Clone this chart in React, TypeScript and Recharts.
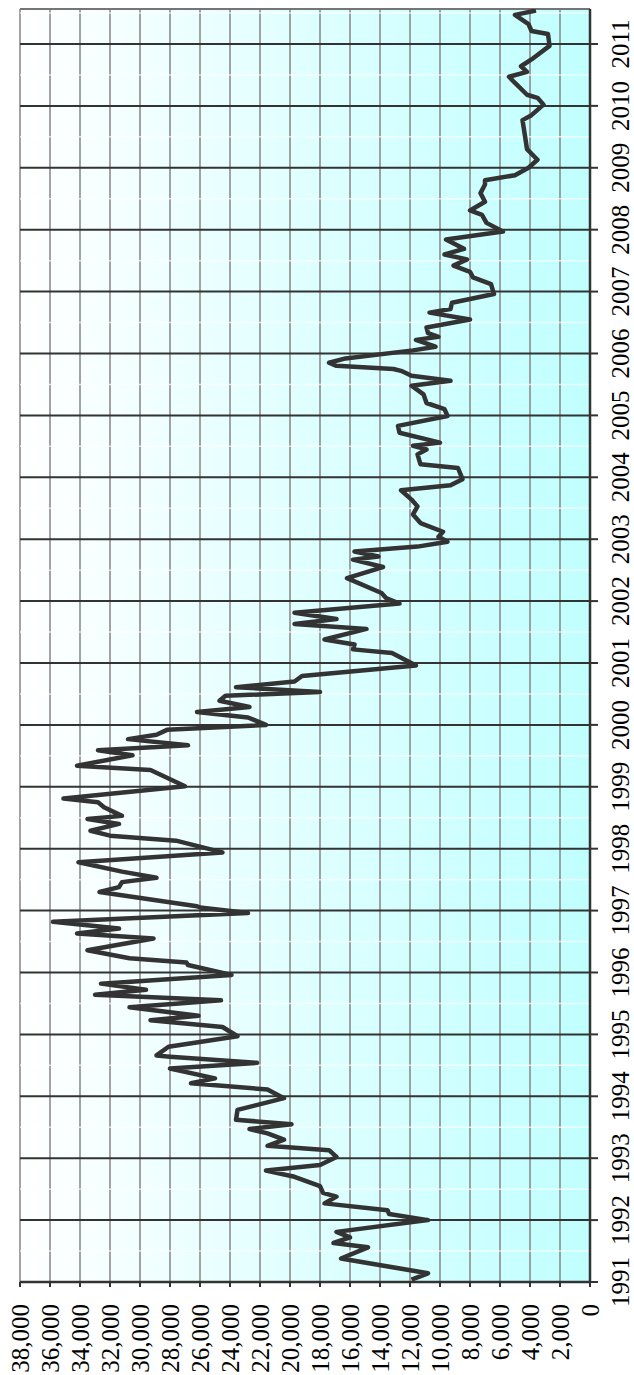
import {
  LineChart, Line, XAxis, YAxis, CartesianGrid, ReferenceLine,
} from 'recharts'

const dates = [
  1991.04, 1991.14, 1991.38, 1991.56, 1991.63, 1991.72, 1991.81,
  1992.0, 1992.1, 1992.16, 1992.27, 1992.38, 1992.44, 1992.55, 1992.7, 1992.8, 1992.89,
  1993.02, 1993.13, 1993.2, 1993.3, 1993.4, 1993.47, 1993.55, 1993.62, 1993.78, 1993.97,
  1994.11, 1994.21, 1994.29, 1994.45, 1994.54, 1994.64, 1994.66, 1994.8, 1994.97,
  1995.12, 1995.23, 1995.3, 1995.44, 1995.55, 1995.64, 1995.72, 1995.82, 1995.96,
  1996.12, 1996.16, 1996.23, 1996.36, 1996.55, 1996.63, 1996.71, 1996.82, 1996.96,
  1997.05, 1997.07, 1997.3, 1997.38, 1997.46, 1997.53, 1997.63, 1997.78, 1997.94,
  1998.13, 1998.21, 1998.29, 1998.4, 1998.48, 1998.53, 1998.67, 1998.75, 1998.81,
  1999.01, 1999.27, 1999.34, 1999.51, 1999.59, 1999.67, 1999.77, 1999.84, 1999.92,
  2000.0, 2000.12, 2000.21, 2000.29, 2000.39, 2000.47, 2000.53, 2000.61, 2000.7, 2000.79, 2000.96,
  2001.16, 2001.22, 2001.3, 2001.38, 2001.55, 2001.63, 2001.71, 2001.81, 2001.96,
  2002.05, 2002.13, 2002.37, 2002.55, 2002.67, 2002.72, 2002.8, 2002.88, 2002.96,
  2003.04, 2003.12, 2003.26, 2003.4, 2003.53, 2003.64, 2003.79, 2003.87, 2003.97,
  2004.15, 2004.21, 2004.37, 2004.45, 2004.51, 2004.56, 2004.72, 2004.83, 2004.99,
  2005.1, 2005.2, 2005.34, 2005.48, 2005.56, 2005.64, 2005.72, 2005.75, 2005.8, 2005.85, 2005.92,
  2006.05, 2006.11, 2006.22, 2006.27, 2006.33, 2006.42, 2006.55, 2006.66, 2006.72, 2006.82, 2006.96,
  2007.12, 2007.23, 2007.32, 2007.42, 2007.52, 2007.6, 2007.69, 2007.84, 2007.97,
  2008.11, 2008.24, 2008.31, 2008.45, 2008.59, 2008.73, 2008.8, 2008.88,
  2009.0, 2009.13, 2009.3, 2009.46, 2009.77, 2009.85,
  2010.02, 2010.13, 2010.18, 2010.37, 2010.47, 2010.55, 2010.64, 2010.75, 2010.97,
  2011.16, 2011.21, 2011.32, 2011.47, 2011.54,
]

const values = [
  11900, 10800, 16600, 14800, 17100, 16000, 16900,
  10800, 13400, 13500, 17700, 16900, 17800, 18000, 19700, 21600, 18000,
  16900, 17400, 21500, 20400, 21500, 22700, 19900, 23600, 23500, 20400,
  21500, 26600, 25000, 28000, 22200, 28000, 28900, 28100, 23500,
  24500, 29300, 26100, 30700, 24600, 33000, 29600, 32600, 23900,
  26800, 26900, 30700, 33500, 29100, 34200, 31400, 35800, 22800,
  26000, 26200, 32700, 31400, 31200, 28900, 31200, 34100, 24500,
  27600, 32000, 33300, 31400, 33500, 31200, 32400, 32800, 35100,
  27000, 29300, 34200, 30500, 32800, 26800, 30800, 28900, 28200,
  21600, 22800, 26200, 22700, 24700, 24300, 18000, 23600, 19700, 19200, 11600,
  13200, 15800, 15700, 17700, 14900, 19700, 16900, 19700, 12700,
  13600, 13900, 16200, 13800, 15800, 14100, 15700, 11500, 9500,
  10100, 9800, 11300, 11800, 11500, 11900, 12600, 9300, 8500,
  8800, 11300, 11500, 10900, 11800, 10000, 12700, 12800, 9500,
  9700, 10900, 11100, 11900, 9300, 11900, 12600, 13100, 16900, 17400, 16300,
  11800, 10300, 11600, 10100, 10800, 10900, 8000, 10700, 9300, 9200, 6400,
  6600, 7800, 8000, 9100, 8200, 9700, 8400, 9600, 5800,
  6900, 7200, 8000, 7000, 7300, 7000, 7000, 5000,
  4100, 3500, 4200, 4300, 4500, 3900,
  3100, 3500, 4200, 5000, 5400, 4200, 4600, 3900, 2700,
  2800, 3900, 4100, 5000, 3600,
]

const years = [
  1991, 1992, 1993, 1994, 1995, 1996, 1997, 1998, 1999, 2000, 2001,
  2002, 2003, 2004, 2005, 2006, 2007, 2008, 2009, 2010, 2011,
]
const valueTicks = [
  0, 2000, 4000, 6000, 8000, 10000, 12000, 14000, 16000, 18000,
  20000, 22000, 24000, 26000, 28000, 30000, 32000, 34000, 36000, 38000,
]
const halfYears = years.map((y) => y + 0.5)
const END = 2011.565

const rows = dates.map((t, i) => ({ t, v: values[i] }))

const SERIF = '"Liberation Serif", "Times New Roman", serif'
const FONT_SIZE = 25

// eslint-disable-next-line @typescript-eslint/no-explicit-any
function ValueTick({ x, y, payload }: any) {
  return (
    <text x={x - 15} y={y} dy="0.35em" textAnchor="end" fontFamily={SERIF} fontSize={FONT_SIZE} fill="#000">
      {Number(payload.value).toLocaleString('en-US')}
    </text>
  )
}

// eslint-disable-next-line @typescript-eslint/no-explicit-any
function YearTick({ x, y, payload }: any) {
  return (
    <text x={x} y={y + 11} dy="0.71em" textAnchor="middle" fontFamily={SERIF} fontSize={FONT_SIZE} fill="#000">
      {payload.value}
    </text>
  )
}

export default function App() {
  // the chart is drawn landscape and turned a quarter turn to the left
  return (
    <div style={{ position: 'absolute', left: 0, top: 0, width: 634, height: 1375, overflow: 'hidden', background: '#fff', fontFamily: SERIF }}>
      <div
        style={{
          position: 'absolute', left: 0, top: 0, width: 1375, height: 634,
          transformOrigin: '0 0', transform: 'translateY(1375px) rotate(-90deg)',
        }}
      >
        <LineChart width={1375} height={634} data={rows} margin={{ top: 20, right: 9, bottom: 0, left: 0 }}>
          <defs>
            <linearGradient id="bg" x1="0" y1="0" x2="0" y2="1">
              <stop offset="0" stopColor="#ffffff" />
              <stop offset="1" stopColor="#c0ffff" />
            </linearGradient>
          </defs>
          <CartesianGrid fill="url(#bg)" stroke="#8c8c8c" strokeWidth={1.6} vertical={false} />
          {halfYears.map((h) => (
            <ReferenceLine key={h} x={h} stroke="#ffffff" strokeOpacity={0.7} strokeWidth={1.5} />
          ))}
          <CartesianGrid stroke="#333" strokeWidth={2} horizontal={false} fill="none" />
          <ReferenceLine x={END} stroke="#8c8c8c" strokeWidth={1.5} />
          <XAxis
            dataKey="t" type="number" domain={[1991, END]} ticks={years} interval={0}
            height={44} tick={<YearTick />} tickSize={8}
            axisLine={{ stroke: '#333', strokeWidth: 2.5 }} tickLine={{ stroke: '#333', strokeWidth: 2 }}
            allowDataOverflow
          />
          <YAxis
            type="number" domain={[0, 38000]} ticks={valueTicks} interval={0} width={93}
            tick={<ValueTick />} tickSize={5}
            axisLine={{ stroke: '#333', strokeWidth: 2.5 }} tickLine={{ stroke: '#333', strokeWidth: 2 }}
          />
          <Line
            dataKey="v" type="linear" stroke="#333" strokeWidth={4.5} strokeLinejoin="round"
            dot={false} isAnimationActive={false}
          />
        </LineChart>
      </div>
    </div>
  )
}
